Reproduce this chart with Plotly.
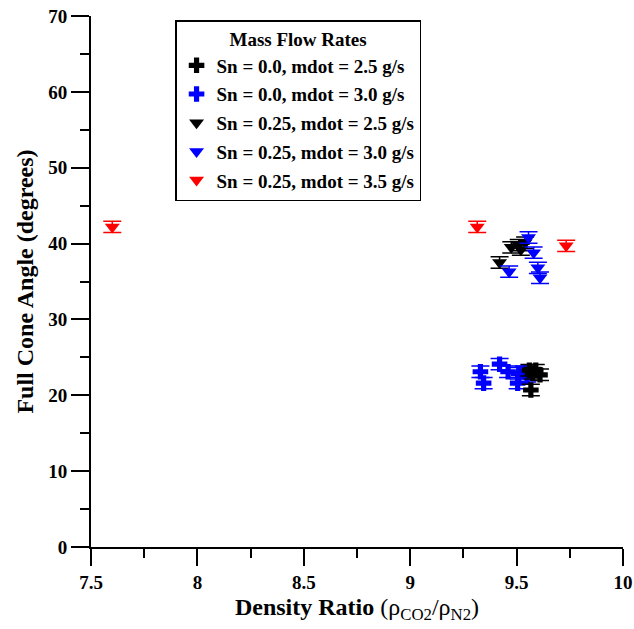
import plotly.graph_objects as go

# Data
bc_x = [9.56, 9.575, 9.59, 9.61, 9.567]          # Sn=0.0, mdot=2.5 (black cross)
bc_y = [23.3, 22.9, 23.3, 22.7, 20.7]
uc_x = [9.33, 9.345, 9.42, 9.46, 9.505, 9.51, 9.535, 9.55]   # Sn=0.0, mdot=3.0 (blue cross)
uc_y = [23.1, 21.6, 24.1, 23.1, 21.6, 22.9, 23.1, 22.5]
bt_x = [9.42, 9.475, 9.51, 9.52, 9.54]           # Sn=0.25, mdot=2.5 (black triangle)
bt_y = [37.5, 39.5, 39.8, 39.2, 40.1]
ut_x = [9.556, 9.58, 9.465, 9.60, 9.61]          # Sn=0.25, mdot=3.0 (blue triangle)
ut_y = [40.8, 38.8, 36.3, 36.8, 35.5]
rt_x = [7.6, 9.315, 9.733]                       # Sn=0.25, mdot=3.5 (red triangle)
rt_y = [42.2, 42.2, 39.7]
err = 0.75

x_ticks = [7.5, 8, 8.5, 9, 9.5, 10]
y_ticks = [0, 10, 20, 30, 40, 50, 60, 70]

names = ["Sn = 0.0, mdot = 2.5 g/s", "Sn = 0.0, mdot = 3.0 g/s",
         "Sn = 0.25, mdot = 2.5 g/s", "Sn = 0.25, mdot = 3.0 g/s",
         "Sn = 0.25, mdot = 3.5 g/s"]

SERIF = "Liberation Serif"
fig = go.Figure()

def add(x, y, name, color, symbol, size, rank):
    fig.add_trace(go.Scatter(
        x=x, y=y, mode="markers", name="<b>" + name + "</b>",
        legendgroup=name, legendrank=rank,
        marker=dict(symbol=symbol, size=size, color=color, line=dict(width=0)),
        error_y=dict(type="constant", value=err, color=color, thickness=1.5, width=9),
    ))

add(uc_x, uc_y, names[1], "#0000ff", "cross", 13, 2)
add(bc_x, bc_y, names[0], "#000000", "cross", 13, 1)
add(bt_x, bt_y, names[2], "#000000", "triangle-down", 13, 3)
add(ut_x, ut_y, names[3], "#0000ff", "triangle-down", 13, 4)
add(rt_x, rt_y, names[4], "#ff0000", "triangle-down", 13, 5)

fig.update_layout(
    template="simple_white",
    width=634, height=629,
    margin=dict(l=91, r=11, t=16, b=82),
    paper_bgcolor="white", plot_bgcolor="white",
    font=dict(family=SERIF, color="black", size=19),
    legend=dict(
        x=0.158, y=0.992, xanchor="left", yanchor="top",
        bordercolor="black", borderwidth=1.5, bgcolor="white",
        title=dict(text="<b>Mass Flow Rates</b>", side="top center",
                   font=dict(family=SERIF, size=19)),
        font=dict(family=SERIF, size=19),
        traceorder="grouped", tracegroupgap=1,
        itemwidth=30,
    ),
    xaxis=dict(
        range=[7.5, 10], tickvals=x_ticks,
        automargin=False,
        showline=True, linecolor="black", linewidth=2,
        ticks="outside", ticklen=17, tickwidth=2, tickcolor="black",
        minor=dict(ticks="outside", ticklen=9, tickwidth=2, tickcolor="black",
                   tickmode="linear", tick0=7.5, dtick=0.25),
        showgrid=False, zeroline=False,
        tickfont=dict(family=SERIF, size=19, weight="bold"),
        title=dict(
            text="<b>Density Ratio</b> (ρ<sub>CO2</sub>/ρ<sub>N2</sub>)",
            font=dict(family=SERIF, size=24), standoff=6),
    ),
    yaxis=dict(
        range=[0, 70], tickvals=y_ticks,
        automargin=False,
        showline=True, linecolor="black", linewidth=2,
        ticks="outside", ticklen=18, tickwidth=2, tickcolor="black",
        minor=dict(ticks="outside", ticklen=9, tickwidth=2, tickcolor="black",
                   tickmode="linear", tick0=0, dtick=5),
        showgrid=False, zeroline=False,
        tickfont=dict(family=SERIF, size=19, weight="bold"),
        title=dict(text="<b>Full Cone Angle (degrees)</b>",
                   font=dict(family=SERIF, size=24), standoff=8),
    ),
)

fig.write_html("out.html")
